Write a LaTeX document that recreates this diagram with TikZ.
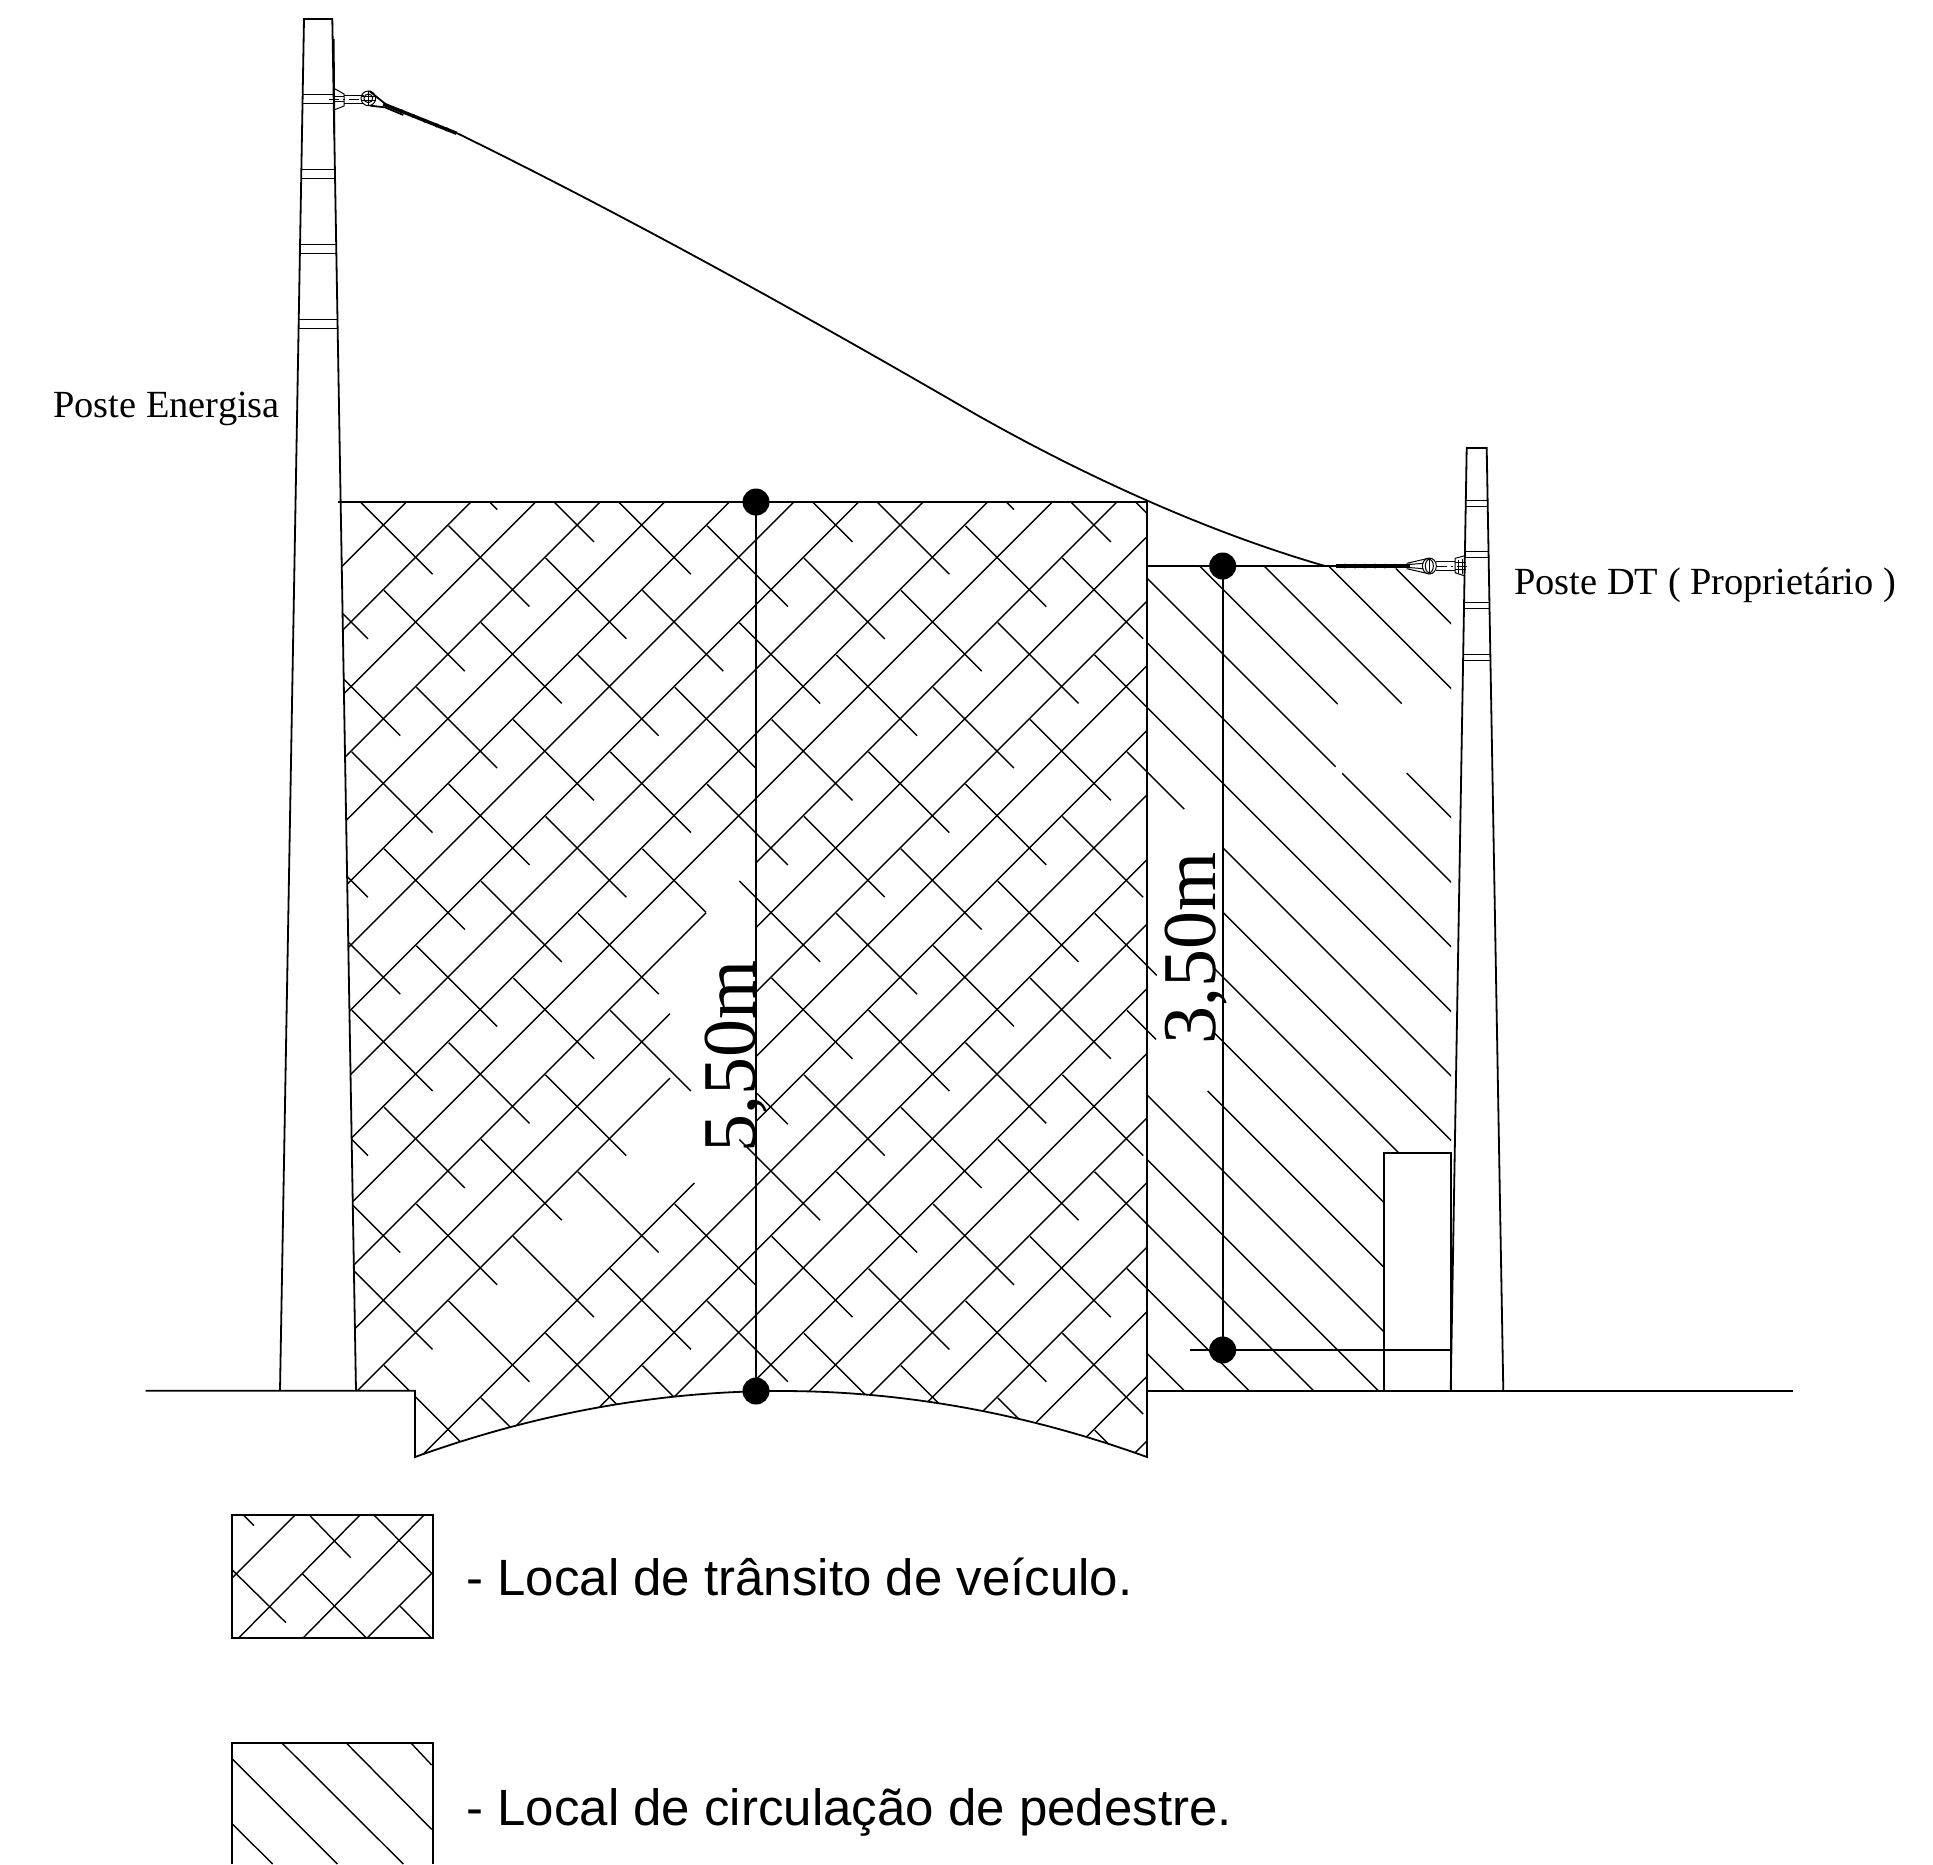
\documentclass[tikz,border=0pt]{standalone}
\usepackage{fontspec}
\setmainfont{Liberation Serif}
\newfontfamily\arialf{Liberation Sans}
\tikzset{
  hatch/.style={line width=0.7pt,black},
  outline/.style={line width=0.9pt,black},
  fineline/.style={line width=0.5pt,black},
  tiebody/.style={line width=1.7pt,black},
  tiebump/.style={fill=black,draw=none},
  dotn/.style={circle,fill=black,draw=none,inner sep=0pt,minimum size=13.5pt},
  poleLabel/.style={anchor=base west,inner sep=0pt,font=\fontsize{19.2}{23}\selectfont},
  dimLabel/.style={anchor=base west,inner sep=0pt,rotate=90,font=\fontsize{38}{44}\selectfont},
  legendLabel/.style={anchor=base west,inner sep=0pt,font=\arialf\fontsize{25.5}{30}\selectfont}
}
\begin{document}
\begin{tikzpicture}[x=0.5pt,y=-0.5pt]
\useasboundingbox (0,0) rectangle (1933,1864);
% vehicle hatch
\begin{scope}
\clip (340.6,502) -- (1147,502) -- (1147,1457) .. controls (903,1369) and (659,1369) .. (415,1457) -- (415,1390.7) -- (356,1390.7) -- cycle;
\foreach \n in {0,1,2,3,4,5,6,7,8,9,10,16,17,18,19,20,21,22,23,24,25,26}{
  \pgfmathsetmacro\k{908.3+64.6*\n}
  \pgfmathsetmacro\ya{\k-300}\pgfmathsetmacro\yb{\k-1200}
  \draw[hatch] (300,\ya) -- (1200,\yb);
}
\foreach \n/\xa in {11/706,12/670,13/670,15/694.3}{
  \pgfmathsetmacro\k{908.3+64.6*\n}
  \pgfmathsetmacro\ya{\k-300}\pgfmathsetmacro\yb{\k-\xa}
  \pgfmathsetmacro\yc{\k-756}\pgfmathsetmacro\yd{\k-1200}
  \draw[hatch] (300,\ya) -- (\xa,\yb);
  \draw[hatch] (756,\yc) -- (1200,\yd);
}
\pgfmathsetmacro\k{908.3+64.6*14}
\pgfmathsetmacro\yc{\k-756}\pgfmathsetmacro\yd{\k-1200}
\draw[hatch] (756,\yc) -- (1200,\yd);
\foreach \n in {-16,...,13}{
  \foreach \m in {-9,...,9}{
    \pgfmathtruncatemacro\skipit{(\n==-5&&\m==0)||(\n==-2&&\m==1)||(\n==-1&&\m==1)||(\n==-3&&\m==1)}
    \ifnum\skipit=0
      \pgfmathsetmacro\cc{-141.67+64.6*\n}
      \pgfmathsetmacro\sx{481-32.3*\n+129.2*\m}
      \pgfmathsetmacro\sy{\sx-\cc}
      \pgfmathsetmacro\ex{\sx+80.75}
      \pgfmathsetmacro\ey{\ex-\cc}
      \draw[hatch] (\sx,\sy) -- (\ex,\ey);
    \fi
  }
}
% truncated dashes at the text island
\draw[hatch] (642.5,848.8) -- (706,912.3);
\draw[hatch] (757,1093.3) -- (787.9,1124.2);
\end{scope}
% pedestrian hatch
\begin{scope}
\clip (1147,566) -- (1451,566) -- (1451,1152.7) -- (1384,1152.7) -- (1384,1390.7) -- (1147,1390.7) -- cycle;
\foreach \j/\xa/\xb in {15/1396/1460,14/1140/1460,13/1140/1401.7,12/1140/1337.7,12/1406.7/1460,11/1140/1335.7,11/1342.3/1460,10/1140/1460,9/1140/1460,8/1140/1184.3,8/1222.7/1460,7/1222.7/1460,6/1213/1460,5/1140/1156.7,5/1215/1460,4/1140/1156,4/1207.7/1460,3/1140/1460,2/1140/1460,1/1140/1460,0/1140/1460,-1/1140/1460}{
  \pgfmathsetmacro\cc{-141.67+64.6*\j}
  \pgfmathsetmacro\ya{\xa-\cc}\pgfmathsetmacro\yb{\xb-\cc}
  \draw[hatch] (\xa,\ya) -- (\xb,\yb);
}
\end{scope}
% ground, area outlines
\draw[outline] (145.5,1390.7) -- (415,1390.7) -- (415,1457) .. controls (659,1369) and (903,1369) .. (1147,1457) -- (1147,502) -- (338,502);
\draw[outline] (1147,1390.7) -- (1792.6,1390.7);
\draw[outline] (1147,566) -- (1336,566);
\draw[outline] (1384,1390.7) -- (1384,1152.7) -- (1450.7,1152.7) -- (1450.7,1390.7);
% left pole
\draw[outline] (280,1390.7) -- (304,19) -- (332.3,19) -- (356,1390.7);
\draw[outline] (333.7,39) -- (334.3,134);
\foreach \ya/\xa/\xb in {94.5/302.7/333.6,103/302.5/333.8,169/301.4/334.9,178/301.2/335,244/300.1/336.2,253/299.9/336.3,319/298.7/337.5,328/298.6/337.6}{
  \draw[fineline] (\xa,\ya) -- (\xb,\ya);
}
% right pole
\draw[outline] (1450.7,1390.7) -- (1466.7,448) -- (1486.7,448) -- (1503.3,1390.7);
\foreach \ya/\xa/\xb in {500/1465.8/1487.6,506/1465.7/1487.7,551/1464.9/1488.5,557/1464.8/1488.6,602/1464.1/1489.4,608/1464/1489.5,654/1463.2/1490.3,660/1463.1/1490.4}{
  \draw[fineline] (\xa,\ya) -- (\xb,\ya);
}
% conductor
\coordinate (wireA) at (456.7,133);
\coordinate (wireM) at (951,400);
\coordinate (wireB) at (1325,566);
\draw[outline] (wireA) .. controls (620,213) and (790,307) .. (wireM) .. controls (1055,461) and (1190,527) .. (wireB);
% left hardware
\begin{scope}[shift={(270,0)},x=0.16667pt,y=-0.16667pt]
  \draw[fineline] (192,265) -- (222,282) -- (222,318) -- (192,330);
  \draw[fineline] (190,290) -- (222,290) (190,305) -- (222,305);
  \draw[fineline,dash pattern=on 5pt off 2pt on 1pt off 2pt] (178,297) -- (280,297);
  \draw[fineline] (222,285) -- (282,285) (222,310) -- (282,310);
  \draw[fineline] (295,295) circle [radius=22];
  \draw[fineline] (295,295) circle [radius=13];
  \draw[fineline] (295,272) -- (295,318) (276,288) -- (318,288) (276,302) -- (318,302);
  \draw[outline] (298,273) -- (350,315) (300,317) -- (345,322) -- (400,345);
  \draw[tiebody] (340,312) -- (560,400);
  \foreach \tx/\ty in {395/334,430/348,465/362,500/376,530/388}{
    \fill[tiebump] (\tx,\ty) circle [radius=6];
  }
\end{scope}
% right hardware
\begin{scope}[shift={(1300,430)},x=0.16667pt,y=-0.16667pt]
  \draw[fineline] (495,377) -- (465,385) -- (465,428) -- (495,438);
  \draw[fineline] (465,397) -- (497,397) (465,418) -- (497,418) (476,390) -- (476,428) (486,388) -- (486,431);
  \draw[fineline,dash pattern=on 5pt off 2pt on 1pt off 2pt] (410,408) -- (510,408);
  \draw[fineline] (408,393) -- (465,393) (408,422) -- (465,422);
  \draw[fineline] (388,408) ellipse [x radius=21,y radius=24];
  \draw[fineline] (388,408) ellipse [x radius=12,y radius=20];
  \draw[fineline] (388,384) -- (388,432);
  \draw[fineline] (385,385) -- (320,400) (385,431) -- (320,416) (370,400) -- (320,404) (370,416) -- (320,412);
  \draw[tiebody] (108,408) -- (330,408);
  \foreach \tx in {135,165,195,225,255,285}{
    \fill[tiebump] (\tx,408) circle [radius=7];
  }
\end{scope}
% dimensions
\node[dotn] (topA) at (756,502) {};
\node[dotn] (botA) at (756,1391) {};
\node[dotn] (topB) at (1222.7,566) {};
\node[dotn] (botB) at (1222.7,1350) {};
\draw[outline] (topA.center) -- (botA.center);
\draw[outline] (topB.center) -- (botB.center);
\coordinate (dimStart) at (1190,1350);
\coordinate (dimEnd) at (1450.7,1350);
\draw[outline] (dimStart) -- (dimEnd);
\node[dimLabel] (lblA) at (755,1153) {5,50m};
\node[dimLabel] (lblB) at (1215,1045) {3,50m};
% labels
\node[poleLabel] (poleE) at (53,417) {Poste Energisa};
\node[poleLabel] (poleD) at (1514,594) {Poste DT ( Proprietário )};
% legend
\draw[outline] (232,1515) rectangle (432.7,1638);
\begin{scope}[shift={(200,1490)},x=0.16667pt,y=-0.16667pt]
  \draw[hatch] (285,75) -- (95,265) (480,75) -- (115,445) (672,75) -- (308,445) (695,250) -- (500,445);
  \draw[hatch] (130,75) -- (162,107) (328,75) -- (452,203) (522,75) -- (695,250) (95,238) -- (258,398) (308,252) -- (500,445) (600,348) -- (695,445);
  \draw[hatch] (632,758) -- (695,825) (438,758) -- (695,1018) (245,758) -- (610,1122) (95,805) -- (412,1122) (95,1000) -- (218,1122);
\end{scope}
\draw[outline] (232,1864) -- (232,1742.7) -- (432.7,1742.7) -- (432.7,1864);
\node[legendLabel] (legA) at (466,1595) {- Local de trânsito de veículo.};
\node[legendLabel] (legB) at (466,1825) {- Local de circulação de pedestre.};
\end{tikzpicture}
\end{document}
